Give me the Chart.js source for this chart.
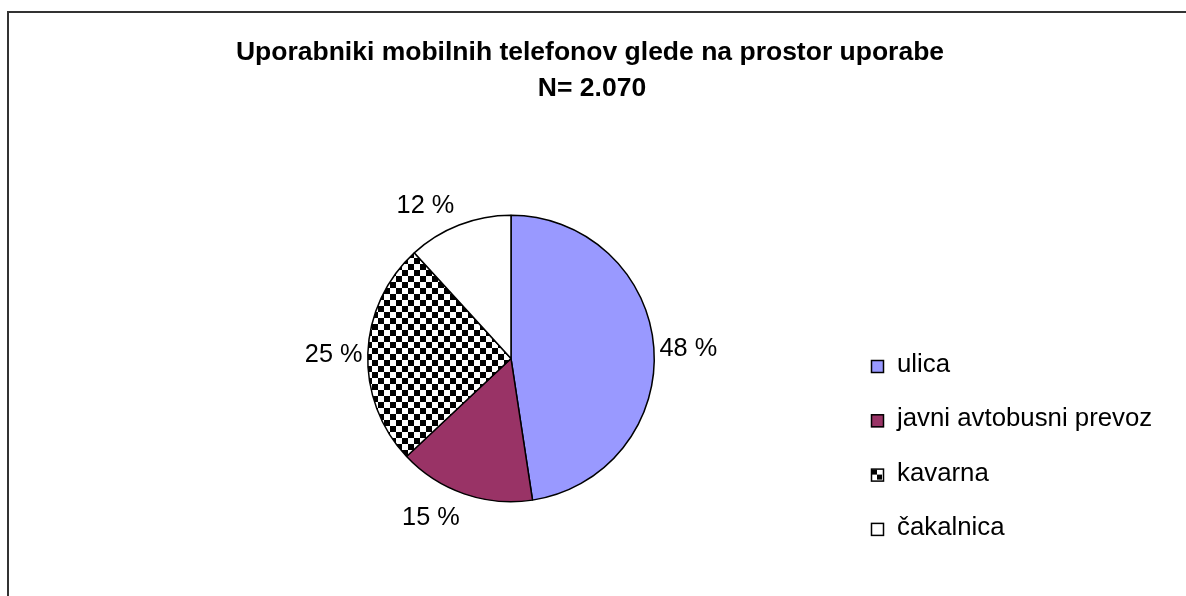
<!DOCTYPE html>
<html lang="sl">
<head>
  <meta charset="UTF-8">
  <title>Uporabniki mobilnih telefonov</title>
  <style>
    html, body { margin: 0; padding: 0; background: #fff; }
    canvas { display: block; }
  </style>
</head>
<body>
  <canvas id="chart" width="1186" height="596"></canvas>
  <script src="https://cdn.jsdelivr.net/npm/chart.js@4/dist/chart.umd.min.js"></script>
  <script>
    const titleLines = ['Uporabniki mobilnih telefonov glede na prostor uporabe', 'N= 2.070'];
    const categories = ['ulica', 'javni avtobusni prevoz', 'kavarna', 'čakalnica'];
    const shares = [47.6, 15.4, 25.2, 11.8];

    const FONT = '"Liberation Sans", Arial, sans-serif';

    // checkerboard fill for "kavarna"
    function checker(cell) {
      const c = document.createElement('canvas');
      c.width = c.height = cell * 2;
      const g = c.getContext('2d');
      g.fillStyle = '#fff';
      g.fillRect(0, 0, cell * 2, cell * 2);
      g.fillStyle = '#000';
      g.fillRect(0, 0, cell, cell);
      g.fillRect(cell, cell, cell, cell);
      return g.createPattern(c, 'repeat');
    }

    const $chart = document.querySelector('#chart');
    const ctx = $chart.getContext('2d');
    const colors = ['#9999FF', '#993366', checker(6), '#FFFFFF'];

    const decor = {
      id: 'decor',
      beforeDraw(chart) {
        const c = chart.ctx;
        c.save();
        c.strokeStyle = '#333';
        c.lineWidth = 2;
        c.beginPath();
        c.moveTo(8, 596);
        c.lineTo(8, 12);
        c.lineTo(1186, 12);
        c.stroke();

        c.fillStyle = '#000';
        c.textAlign = 'center';
        c.textBaseline = 'alphabetic';
        c.font = 'bold 26.5px ' + FONT;
        c.fillText(titleLines[0], 590, 60);
        c.fillText(titleLines[1], 592, 95.5);
        c.restore();
      },
      afterDatasetsDraw(chart) {
        const c = chart.ctx;
        const meta = chart.getDatasetMeta(0);
        const size = 25.3;
        const capH = size * 0.716;
        c.save();
        c.fillStyle = '#000';
        c.font = size + 'px ' + FONT;
        c.textBaseline = 'alphabetic';
        meta.data.forEach((arc, i) => {
          const mid = (arc.startAngle + arc.endAngle) / 2;
          const dx = Math.cos(mid), dy = Math.sin(mid);
          const r = arc.outerRadius + 5 + 9 * Math.abs(dy);
          const px = arc.x + r * dx, py = arc.y + r * dy;
          c.textAlign = dx > 0.2 ? 'left' : (dx < -0.2 ? 'right' : 'center');
          let y = py + capH / 2;
          if (dy > 0.5) y = py + capH;
          else if (dy < -0.5) y = py;
          c.fillText(Math.round(shares[i]) + ' %', px, y);
        });

        // legend
        const lx = 871, base0 = 372, step = 54.3, box = 13;
        c.font = '25.8px ' + FONT;
        categories.forEach((name, i) => {
          const base = base0 + i * step;
          const top = base - 12;
          if (i === 2) {
            c.fillStyle = '#fff';
            c.fillRect(lx, top, box, box);
            c.fillStyle = '#000';
            c.fillRect(lx + 1, top + 1, 5, 5);
            c.fillRect(lx + 6, top + 6, 5, 5);
          } else {
            c.fillStyle = colors[i];
            c.fillRect(lx, top, box, box);
          }
          c.strokeStyle = '#000';
          c.lineWidth = 1.5;
          c.strokeRect(lx + 0.5, top + 0.5, box - 1, box - 1);
          c.fillStyle = '#000';
          c.textAlign = 'left';
          c.fillText(name, 897, base);
        });
        c.restore();
      }
    };

    new Chart(ctx, {
      type: 'pie',
      data: {
        labels: categories,
        datasets: [{
          data: shares,
          backgroundColor: colors,
          borderColor: '#000',
          borderWidth: 1.5
        }]
      },
      options: {
        responsive: false,
        animation: false,
        events: [],
        layout: { padding: { left: 367, right: 531, top: 214, bottom: 93 } },
        plugins: {
          legend: { display: false },
          title: { display: false },
          tooltip: { enabled: false }
        }
      },
      plugins: [decor]
    });
  </script>
</body>
</html>
